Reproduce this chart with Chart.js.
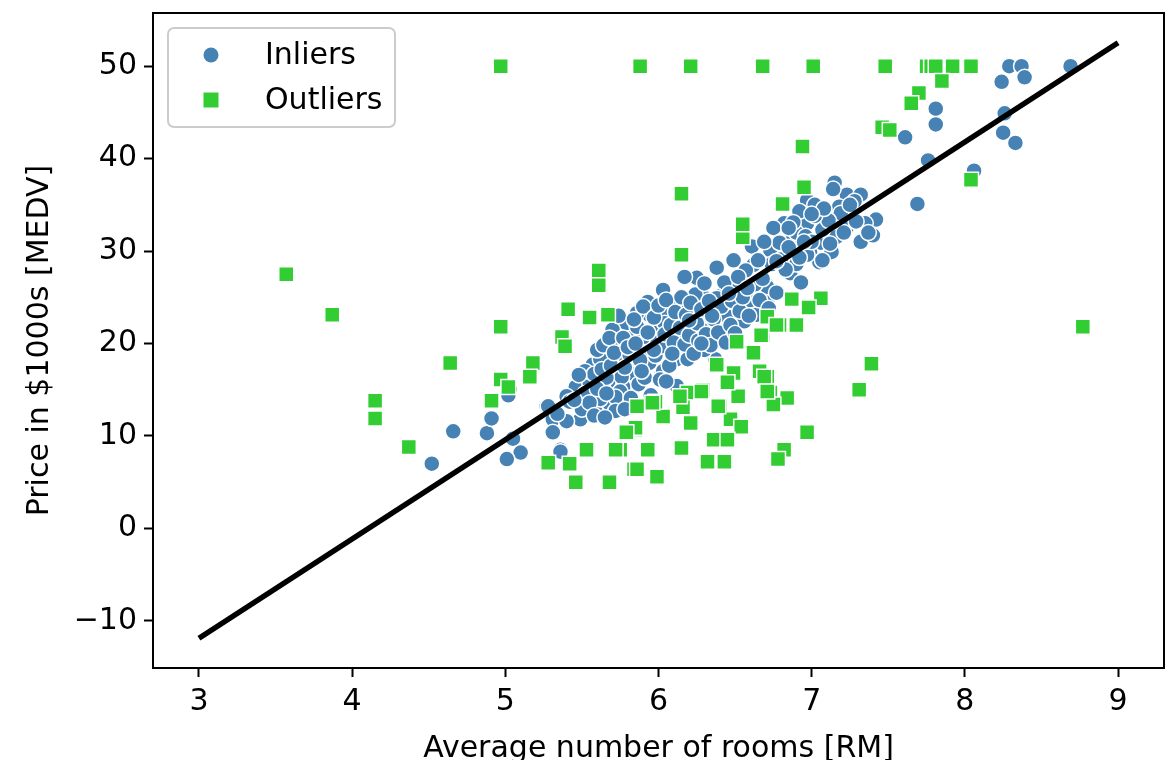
<!DOCTYPE html>
<html>
<head>
<meta charset="utf-8">
<title>RANSAC fit: RM vs MEDV</title>
<script src="https://cdn.jsdelivr.net/npm/chart.js@4.4.1/dist/chart.umd.min.js"></script>
<style>
  html, body { margin: 0; padding: 0; background: #fff; }
  canvas { display: block; }
</style>
</head>
<body>
<canvas id="ransac-chart" width="1174" height="760"></canvas>
<script>
// Points the RANSAC regressor kept as inliers
const inlierRM = [
  8.29, 8.37, 8.69, 8.24, 8.39, 7.81, 7.81, 7.61, 8.26, 8.25, 8.33, 7.76, 8.06, 7.69,
  7.15, 7.23, 7.32, 6.97, 7.02, 7.18, 7.42, 6.97, 7.20, 7.23, 7.10, 6.82, 6.75, 7.32,
  7.40, 7.16, 7.06, 6.87, 6.99, 6.73, 6.61, 6.62, 6.86, 6.49, 6.38, 6.25, 6.17, 7.05,
  7.13, 7.19, 7.07, 6.97, 7.07, 6.71, 6.93, 6.60, 6.45, 6.58, 6.32, 6.29, 6.51, 6.71,
  6.71, 6.64, 6.56, 6.60, 6.40, 6.43, 6.43, 6.24, 6.38, 7.14, 7.28, 7.35, 7.29, 7.11,
  6.92, 6.90, 6.96, 7.00, 6.80, 6.90, 6.55, 6.30,
  5.93, 6.06, 6.14, 5.88, 6.01, 6.13, 6.22, 6.37, 6.16, 6.06, 5.92, 5.81, 5.70, 5.75,
  5.86, 5.79, 5.57, 5.67, 5.65, 5.73, 5.83, 6.02, 6.09, 5.94, 5.63, 5.76, 5.53, 5.46,
  5.40, 5.27, 5.31, 5.36, 5.49, 5.57, 6.04, 5.94, 6.19, 6.27, 6.45, 6.24, 6.13, 6.36,
  6.42, 6.12, 6.19, 6.30, 6.06, 5.99, 5.90, 5.79, 5.96, 6.03, 5.81, 5.77, 5.86, 6.03,
  5.86, 5.70, 5.62, 5.70, 5.76, 5.75, 5.66, 5.81, 5.55, 5.59, 5.50, 5.42, 5.28, 5.31,
  5.40, 5.31, 5.36, 5.68, 5.72, 5.62, 5.60, 5.52,
  4.91, 4.88, 5.05, 5.10, 5.01, 5.03, 4.66, 4.52, 4.91, 5.02,
  5.52, 5.55, 5.58, 5.60, 5.63, 5.64, 5.66, 5.68, 5.69, 5.71, 5.72, 5.74, 5.77, 5.78,
  5.80, 5.82, 5.84, 5.85, 5.87, 5.88, 5.90, 5.91, 5.93, 5.95, 5.97, 5.98, 6.00, 6.01,
  6.02, 6.04, 6.05, 6.07, 6.08, 6.10, 6.11, 6.12, 6.14, 6.15, 6.17, 6.18, 6.20, 6.21,
  6.23, 6.25, 6.26, 6.28, 6.31, 6.33, 6.34, 6.36, 6.39, 6.41, 6.44, 6.47, 6.48, 6.50,
  6.53, 6.55, 6.57, 6.59, 6.63, 6.66, 6.68, 6.72, 6.74, 6.77, 6.79, 6.83, 6.85, 6.88,
  6.92, 6.95, 7.02, 7.08, 7.12, 7.21, 7.25, 7.37, 5.58, 5.65, 5.78, 5.45, 5.34, 5.48,
  6.20, 6.35, 6.46, 6.52, 6.65, 6.69, 5.97, 6.09, 6.28, 6.05, 5.89, 6.58, 6.77, 6.85,
  7.00
];
const inlierMEDV = [
  50.0, 50.0, 50.0, 48.3, 48.8, 45.4, 43.7, 42.3, 44.9, 42.8, 41.7, 39.8, 38.7, 35.1,
  37.4, 36.1, 36.1, 35.5, 35.0, 34.8, 33.4, 33.0, 33.7, 32.6, 32.3, 33.0, 32.5, 31.0,
  31.7, 31.5, 30.9, 31.2, 29.8, 30.1, 30.5, 28.5, 27.6, 29.0, 28.2, 27.1, 27.2, 28.8,
  29.9, 34.1, 32.3, 29.6, 29.0, 26.3, 26.6, 25.1, 23.3, 24.2, 21.5, 25.1, 26.7, 26.1,
  24.4, 23.1, 22.4, 24.7, 25.1, 23.4, 26.6, 25.3, 24.9, 36.7, 35.4, 33.0, 33.2, 33.3,
  34.3, 32.0, 31.6, 31.0, 29.1, 28.6, 27.5, 26.5,
  24.5, 23.3, 24.4, 23.4, 21.5, 20.6, 19.7, 18.3, 18.6, 20.7, 20.6, 21.2, 21.7, 19.9,
  19.3, 18.3, 17.7, 18.6, 16.3, 15.8, 17.0, 16.8, 18.3, 17.9, 13.1, 15.0, 12.5, 15.3,
  14.3, 13.2, 10.5, 8.5, 11.8, 15.9, 22.2, 23.1, 21.5, 22.9, 22.9, 19.3, 19.5, 20.1,
  20.7, 18.3, 18.3, 19.3, 19.3, 20.4, 20.7, 22.2, 19.0, 17.0, 16.8, 15.3, 21.8, 25.8,
  23.3, 21.5, 18.3, 20.4, 16.4, 14.8, 16.3, 18.8, 15.8, 12.6, 12.9, 13.7, 13.2, 11.8,
  11.6, 10.4, 8.3, 13.5, 14.2, 14.0, 19.3, 17.0,
  12.0, 10.3, 9.7, 8.2, 7.5, 15.0, 10.5, 7.0, 11.9, 14.4,
  14.6, 13.6, 16.7, 15.1, 17.2, 19.8, 14.6, 20.6, 17.6, 19.0, 12.7, 23.0, 20.6, 17.4,
  19.6, 14.1, 22.6, 20.0, 15.6, 18.2, 24.0, 16.3, 21.2, 14.4, 22.8, 18.7, 24.1, 16.1,
  19.7, 21.0, 24.7, 17.6, 22.0, 20.1, 23.4, 15.4, 21.7, 25.0, 19.9, 23.1, 20.9, 24.4,
  18.9, 22.2, 20.3, 23.7, 21.0, 24.6, 19.8, 22.6, 21.2, 24.0, 20.1, 22.0, 24.6, 21.1,
  23.5, 25.0, 27.9, 23.0, 26.4, 24.7, 27.0, 23.8, 28.6, 25.5, 30.9, 28.0, 30.4, 33.1,
  29.3, 31.0, 33.8, 34.6, 30.8, 32.0, 35.0, 32.0, 12.2, 12.0, 12.9, 13.9, 12.4, 16.6,
  22.5, 23.0, 25.4, 27.2, 29.0, 31.0, 19.3, 18.9, 20.0, 15.9, 17.0, 26.0, 28.9, 32.5,
  34.0
];

// Points rejected as outliers
const outlierRM = [
  4.97, 5.88, 6.21, 6.68, 7.01, 7.48, 7.75, 7.78, 7.81, 7.92, 8.04,
  7.85, 7.70, 7.65, 7.46, 7.51, 8.04, 8.77,
  3.57, 3.87, 4.15, 4.15, 4.37, 4.64, 4.91, 4.97, 4.97, 5.02,
  5.61, 5.61, 5.41, 5.55, 5.67, 5.37, 5.39, 5.18, 5.16,
  5.53, 5.28, 5.42, 5.46, 5.68, 5.75, 5.85, 5.84, 5.72,
  6.94, 6.95, 6.81, 6.15, 6.15, 6.55, 6.55,
  6.87, 7.06, 6.98, 6.71, 6.79, 6.90, 6.68, 7.39, 7.31, 6.71, 6.73, 6.84, 6.75, 6.97,
  6.82, 6.78,
  6.51, 6.67, 6.71, 6.77, 6.38, 6.49, 6.66, 6.69, 6.29, 6.19, 6.52, 6.71, 6.40, 6.16,
  6.03, 5.98, 5.86, 6.47, 6.54, 6.21, 5.85, 6.36, 6.45, 6.15, 5.94, 6.32, 6.43, 5.86,
  5.99, 6.62, 5.96, 6.14, 6.28, 6.45, 5.79, 6.39, 5.93
];
const outlierMEDV = [
  50.0, 50.0, 50.0, 50.0, 50.0, 50.0, 50.0, 50.0, 50.0, 50.0, 50.0,
  48.4, 47.1, 46.0, 43.4, 43.1, 37.7, 21.8,
  27.5, 23.1, 13.8, 11.9, 8.8, 17.9, 13.8, 21.8, 16.1, 15.3,
  27.9, 26.3, 23.7, 22.8, 23.1, 20.7, 19.7, 17.9, 16.4,
  8.5, 7.1, 7.0, 5.0, 5.0, 8.5, 10.7, 6.4, 8.5,
  41.3, 36.9, 35.1, 36.2, 29.6, 31.5, 32.9,
  24.8, 24.9, 23.9, 22.8, 22.0, 22.0, 20.9, 17.8, 15.0, 16.4, 14.7, 14.1, 13.4, 10.4,
  8.5, 7.5,
  20.2, 20.9, 22.9, 22.0, 17.7, 16.8, 17.0, 16.4, 15.0, 14.7, 14.3, 14.8, 13.2, 13.1,
  12.1, 13.7, 13.2, 11.8, 11.0, 11.4, 10.9, 9.6, 9.6, 8.7, 8.5, 7.2, 7.2, 6.4,
  5.6, 19.0, 13.6, 14.3, 14.8, 15.8, 10.4, 13.2, 8.5
];

// Fitted RANSAC line, evaluated at both ends of the x range
const lineRM = [3, 9];
const lineMEDV = [-11.88, 52.53];

const xTicks = [3, 4, 5, 6, 7, 8, 9];
const yTicks = [-10, 0, 10, 20, 30, 40, 50];

const FONT = 'DejaVu Sans';
const FONT_SIZE = 30;
const toPoints = (xs, ys) => xs.map((x, i) => ({ x, y: ys[i] }));
const fmt = v => (v < 0 ? '\u2212' + Math.abs(v) : String(v));

// Box around the plot area plus a matplotlib-like legend in its corner
const frameAndLegend = {
  id: 'frameAndLegend',
  afterDatasetsDraw(chart) {
    const { ctx, chartArea: a } = chart;
    ctx.save();
    ctx.strokeStyle = '#000';
    ctx.lineWidth = 2;
    ctx.strokeRect(a.left, a.top, a.right - a.left, a.bottom - a.top);

    const bx = a.left + 15, by = a.top + 15, bw = 227, bh = 99, r = 6;
    ctx.globalAlpha = 0.8;
    ctx.fillStyle = '#fff';
    ctx.beginPath();
    ctx.roundRect(bx, by, bw, bh, r);
    ctx.fill();
    ctx.globalAlpha = 1;
    ctx.strokeStyle = '#cccccc';
    ctx.lineWidth = 2;
    ctx.stroke();

    const entries = chart.data.datasets.filter(d => d.legendLabel).reverse();
    ctx.font = FONT_SIZE + 'px "' + FONT + '"';
    ctx.textBaseline = 'middle';
    ctx.textAlign = 'left';
    entries.forEach((d, i) => {
      const cy = by + 27 + i * 45;
      const mx = bx + 43;
      ctx.fillStyle = d.backgroundColor;
      if (d.pointStyle === 'rect') {
        ctx.fillRect(mx - 7.5, cy - 7.5, 15, 15);
      } else {
        ctx.beginPath();
        ctx.arc(mx, cy, 7.5, 0, Math.PI * 2);
        ctx.fill();
      }
      ctx.fillStyle = '#000';
      ctx.fillText(d.legendLabel, bx + 97, cy + 1);
    });
    ctx.restore();
  }
};

const textFont = { family: FONT, size: FONT_SIZE, lineHeight: 1 };

new Chart(document.getElementById('ransac-chart'), {
  type: 'scatter',
  data: {
    datasets: [
      {
        type: 'line',
        data: toPoints(lineRM, lineMEDV),
        borderColor: '#000',
        borderWidth: 5.5,
        pointRadius: 0,
        fill: false,
        order: 0
      },
      {
        legendLabel: 'Outliers',
        data: toPoints(outlierRM, outlierMEDV),
        pointStyle: 'rect',
        pointRadius: 10.6,
        backgroundColor: '#32cd32',
        borderColor: '#fff',
        borderWidth: 1.5,
        order: 1
      },
      {
        legendLabel: 'Inliers',
        data: toPoints(inlierRM, inlierMEDV),
        pointStyle: 'circle',
        pointRadius: 8,
        backgroundColor: '#4682b4',
        borderColor: '#fff',
        borderWidth: 1.5,
        order: 2
      }
    ]
  },
  options: {
    responsive: false,
    animation: false,
    events: [],
    layout: { autoPadding: false, padding: { top: 13, right: 10, left: 0, bottom: 0 } },
    plugins: { legend: { display: false }, tooltip: { enabled: false } },
    scales: {
      x: {
        type: 'linear',
        min: 2.7,
        max: 9.3,
        afterBuildTicks: s => { s.ticks = xTicks.map(v => ({ value: v })); },
        afterFit: s => { s.height = 92; s.paddingLeft = 0; s.paddingRight = 0; },
        border: { display: false },
        grid: { drawOnChartArea: false, drawTicks: true, tickLength: 9, tickWidth: 2, tickColor: '#000' },
        ticks: { color: '#000', font: textFont, padding: 10, maxRotation: 0, callback: fmt },
        title: {
          display: true,
          text: 'Average number of rooms [RM]',
          color: '#000',
          font: textFont,
          padding: { top: 0, bottom: -4 }
        }
      },
      y: {
        type: 'linear',
        min: -15.1,
        max: 55.75,
        afterBuildTicks: s => { s.ticks = yTicks.map(v => ({ value: v })); },
        afterFit: s => { s.width = 153; s.paddingTop = 0; s.paddingBottom = 0; },
        border: { display: false },
        grid: { drawOnChartArea: false, drawTicks: true, tickLength: 9, tickWidth: 2, tickColor: '#000' },
        ticks: { color: '#000', font: textFont, padding: 7, callback: fmt },
        title: {
          display: true,
          text: 'Price in $1000s [MEDV]',
          color: '#000',
          font: textFont,
          padding: { top: 25, bottom: 0 }
        }
      }
    }
  },
  plugins: [frameAndLegend]
});
</script>
</body>
</html>
